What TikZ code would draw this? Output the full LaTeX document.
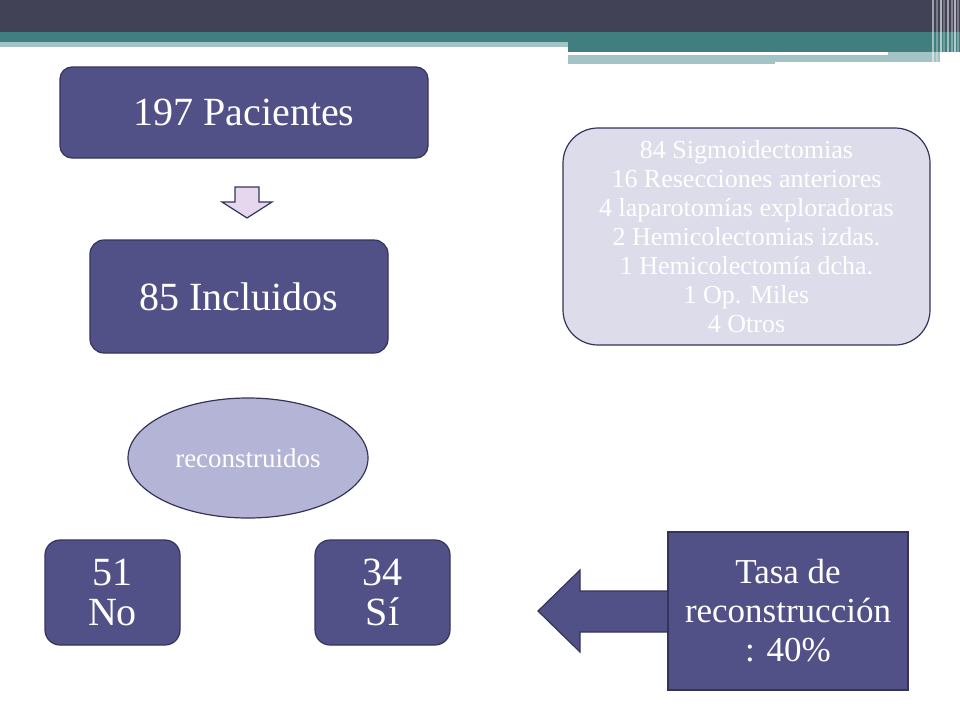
\documentclass[tikz,border=0pt]{standalone}
\usepackage{fontspec}
\setmainfont{Liberation Serif}
\usetikzlibrary{shapes.geometric}
\definecolor{topbar}{HTML}{424257}
\definecolor{barteal}{HTML}{417E7F}
\definecolor{lightteal}{HTML}{A3C4C6}
\definecolor{boxfill}{HTML}{515188}
\definecolor{boxline}{HTML}{34345A}
\definecolor{lightfill}{HTML}{DCDCEA}
\definecolor{ovalfill}{HTML}{B4B4D6}
\definecolor{arrowfill}{HTML}{E6D6EE}
\tikzset{
  caja/.style={draw=boxline, fill=boxfill, line width=1.2pt, text=white, align=center, inner sep=0pt},
  big/.style={font=\fontsize{40}{40}\selectfont},
  small/.style={font=\fontsize{26}{29}\selectfont},
}

\begin{document}
\begin{tikzpicture}[x=1pt, y=-1pt]
            \useasboundingbox (0, 0) rectangle (960, 720);
            % top bar
            \fill[topbar] (0, 0) rectangle (960, 32);
            \fill[barteal] (0, 32) rectangle (960, 42);
            \fill[barteal] (568, 42) rectangle (960, 52);
            \fill[lightteal] (0, 42) rectangle (568, 47);
            \fill[lightteal] (568, 52) rectangle (940, 62);
            \fill[lightteal] (568, 62) rectangle (775, 64);
            \fill[white] (568, 52) rectangle (888, 55);
            \foreach \x/\o in {933/0.5, 937/0.3, 941/0.6, 944/0.25, 948/0.5, 952/0.35, 955/0.6, 958/0.3}
                \draw[white, opacity=\o, line width=1.2pt] (\x, 0) -- (\x, 64);
            % boxes
            \node[caja, big, rounded corners=12pt, minimum width=368pt, minimum height=91pt] (pacientes) at (244, 112.5) {197 Pacientes};
            \node[caja, big, rounded corners=14pt, minimum width=298pt, minimum height=113pt] (incluidos) at (239, 296.5) {85 Incluidos};
            \node[caja, ellipse, fill=ovalfill, font=\fontsize{27}{30}\selectfont, minimum width=240pt, minimum height=120pt] (reconstruidos) at (248, 458) {reconstruidos};
            \node[caja, big, rounded corners=15pt, minimum width=135pt, minimum height=105pt] (no) at (112.5, 592.5) {51\\No};
            \node[caja, big, rounded corners=15pt, minimum width=135pt, minimum height=105pt] (si) at (382.5, 592.5) {34\\Sí};
            \node[caja, small, fill=lightfill, rounded corners=35pt, minimum width=367pt, minimum height=217pt] (tipos) at (746.5, 236.5)
                {84 Sigmoidectomias\\16 Resecciones anteriores\\4 laparotomías exploradoras\\2 Hemicolectomias izdas.\\1 Hemicolectomía dcha.\\1 Op. Miles\\4 Otros};
            % block arrows
            \draw[boxline, fill=arrowfill, line width=1.2pt, line join=miter]
                (235, 187) -- (259, 187) -- (259, 202) -- (272, 202) -- (247, 218) -- (222, 202) -- (235, 202) -- cycle;
            \draw[boxline, fill=boxfill, line width=1.2pt, line join=miter]
                (680, 591) -- (580, 591) -- (580, 570) -- (538, 611) -- (580, 652) -- (580, 632) -- (680, 632) -- cycle;
            \node[caja, font=\fontsize{35}{39}\selectfont, minimum width=240pt, minimum height=158pt] (tasa) at (788, 611) {Tasa de\\reconstrucción\\: 40\%};
        \end{tikzpicture}
\end{document}
